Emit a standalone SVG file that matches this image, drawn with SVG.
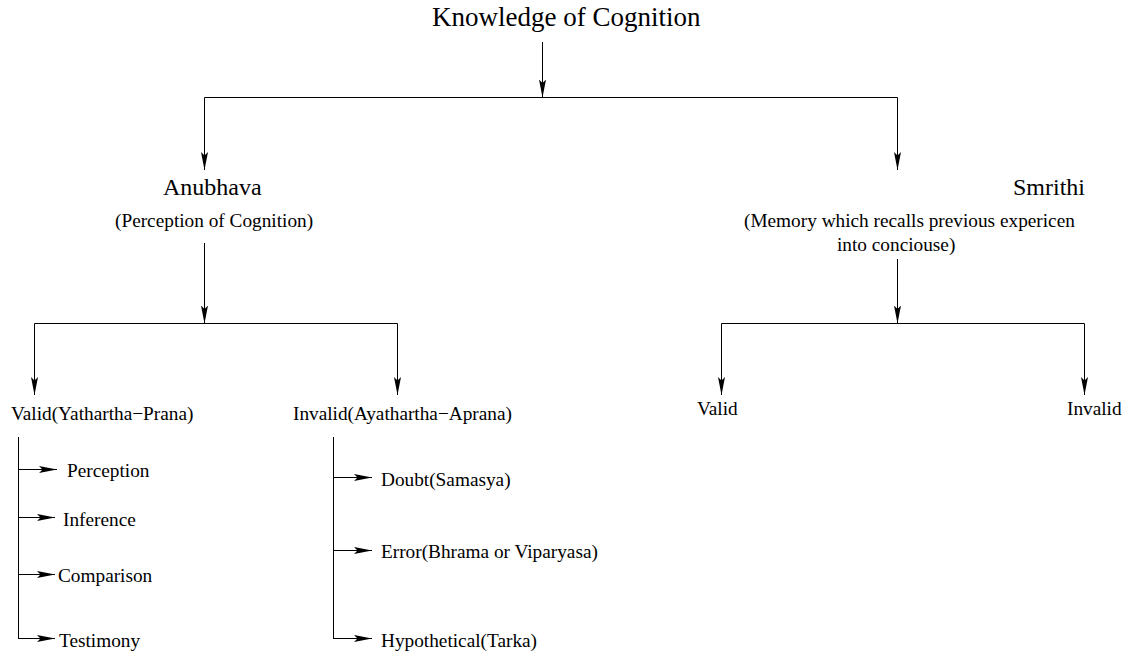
<svg xmlns="http://www.w3.org/2000/svg" width="1132" height="656" viewBox="0 0 1132 656">
  <style>
    text { font-family: "Liberation Serif", "Times New Roman", serif; fill: #000; }
    .big { font-size: 24px; }
    .title { font-size: 27px; }
    .sm { font-size: 19.3px; }
    .c { fill: none; stroke: #000; stroke-width: 1; }
  </style>
  <defs>
    <marker id="ah" viewBox="0 0 18 7" refX="18" refY="3.5" markerWidth="18" markerHeight="7" markerUnits="userSpaceOnUse" orient="auto">
      <path d="M0,0 L18,3.5 L0,7 L3.5,3.5 z" fill="#000"/>
    </marker>
  </defs>
  <rect width="1132" height="656" fill="#fff"/>

  <g id="connectors">
    <line class="c" x1="542.5" y1="42" x2="542.5" y2="97.5" marker-end="url(#ah)"/>
    <line class="c" x1="204.5" y1="97.5" x2="897.5" y2="97.5"/>
    <line class="c" x1="204.5" y1="97.5" x2="204.5" y2="170" marker-end="url(#ah)"/>
    <line class="c" x1="897.5" y1="97.5" x2="897.5" y2="170" marker-end="url(#ah)"/>

    <line class="c" x1="204.5" y1="243" x2="204.5" y2="323.5" marker-end="url(#ah)"/>
    <line class="c" x1="34.5" y1="323.5" x2="397.5" y2="323.5"/>
    <line class="c" x1="34.5" y1="323.5" x2="34.5" y2="395" marker-end="url(#ah)"/>
    <line class="c" x1="397.5" y1="323.5" x2="397.5" y2="395" marker-end="url(#ah)"/>

    <line class="c" x1="897.5" y1="259" x2="897.5" y2="323.5" marker-end="url(#ah)"/>
    <line class="c" x1="721.5" y1="323.5" x2="1084.5" y2="323.5"/>
    <line class="c" x1="721.5" y1="323.5" x2="721.5" y2="395" marker-end="url(#ah)"/>
    <line class="c" x1="1084.5" y1="323.5" x2="1084.5" y2="395" marker-end="url(#ah)"/>

    <line class="c" x1="18.5" y1="437" x2="18.5" y2="638.5"/>
    <line class="c" x1="18" y1="469.5" x2="57" y2="469.5" marker-end="url(#ah)"/>
    <line class="c" x1="18" y1="517.5" x2="55" y2="517.5" marker-end="url(#ah)"/>
    <line class="c" x1="18" y1="574.5" x2="55" y2="574.5" marker-end="url(#ah)"/>
    <line class="c" x1="18" y1="638.5" x2="55" y2="638.5" marker-end="url(#ah)"/>

    <line class="c" x1="333.5" y1="437" x2="333.5" y2="638.5"/>
    <line class="c" x1="333" y1="477.5" x2="372" y2="477.5" marker-end="url(#ah)"/>
    <line class="c" x1="333" y1="550.5" x2="372" y2="550.5" marker-end="url(#ah)"/>
    <line class="c" x1="333" y1="638.5" x2="372" y2="638.5" marker-end="url(#ah)"/>
  </g>

  <g id="knowledge"><text class="title" x="432" y="26">Knowledge of Cognition</text></g>
  <g id="anubhava">
    <text class="big" x="163" y="195">Anubhava</text>
    <text class="sm" x="115" y="227">(Perception of Cognition)</text>
  </g>
  <g id="smrithi">
    <text class="big" x="1013" y="195">Smrithi</text>
    <text class="sm" x="744" y="227">(Memory which recalls previous expericen</text>
    <text class="sm" x="837" y="251">into conciouse)</text>
  </g>
  <g id="valid-yathartha"><text class="sm" x="11" y="420">Valid(Yathartha−Prana)</text></g>
  <g id="invalid-ayathartha"><text class="sm" x="293" y="420">Invalid(Ayathartha−Aprana)</text></g>
  <g id="smrithi-valid"><text class="sm" x="697" y="415">Valid</text></g>
  <g id="smrithi-invalid"><text class="sm" x="1067" y="415">Invalid</text></g>

  <g id="perception"><text class="sm" x="67" y="477">Perception</text></g>
  <g id="inference"><text class="sm" x="63" y="526">Inference</text></g>
  <g id="comparison"><text class="sm" x="58" y="582">Comparison</text></g>
  <g id="testimony"><text class="sm" x="59" y="647">Testimony</text></g>

  <g id="doubt"><text class="sm" x="381" y="486">Doubt(Samasya)</text></g>
  <g id="error"><text class="sm" x="381" y="558">Error(Bhrama or Viparyasa)</text></g>
  <g id="hypothetical"><text class="sm" x="381" y="647">Hypothetical(Tarka)</text></g>
</svg>
